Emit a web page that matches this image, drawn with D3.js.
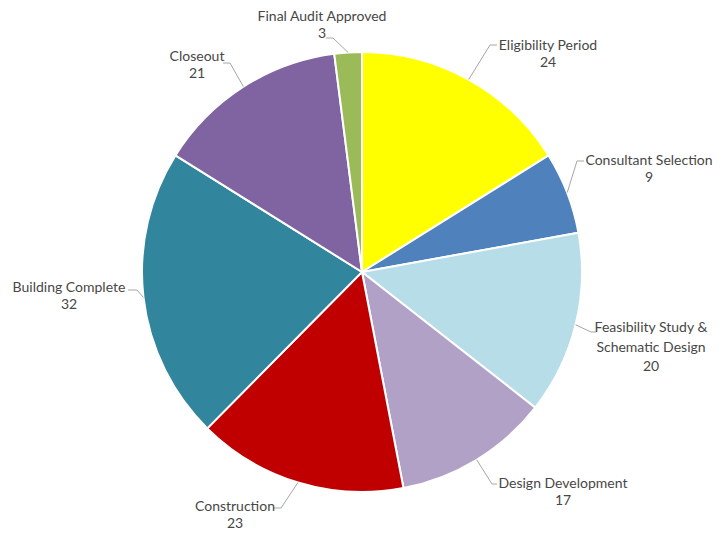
<!DOCTYPE html>
<html>
<head>
<meta charset="utf-8">
<script src="https://cdn.jsdelivr.net/npm/d3@7"></script>
<style>
body { margin:0; background:#fff; }
.lbl { font-family: Lato, "Open Sans", sans-serif; font-size:14px; fill:#474747; }
.leader { fill:none; stroke:#a6a6a6; stroke-width:1; }
</style>
</head>
<body>
<svg width="728" height="534"></svg>
<script>
// chart data
var categories = ['Eligibility Period', 'Consultant Selection', 'Feasibility Study & Schematic Design',
	'Design Development', 'Construction', 'Building Complete', 'Closeout', 'Final Audit Approved'];
var values = [24, 9, 20, 17, 23, 32, 21, 3];
var colors = ['#ffff00', '#4f81bd', '#b7dee8', '#b2a1c7', '#c00000', '#31859c', '#8064a2', '#9bbb59'];

// label lines as they are broken in the picture
var labelLines = [['Eligibility Period'], ['Consultant Selection'], ['Feasibility Study &', 'Schematic Design'],
	['Design Development'], ['Construction'], ['Building Complete'], ['Closeout'], ['Final Audit Approved']];

// label placement: text centre x, first baseline y, elbow point, end of horizontal tick
var labelPos = [
	{tx:548, ty:50, ex:490, ey:45, hx:497},
	{tx:649, ty:165, ex:577, ey:161, hx:584},
	{tx:651, ty:332, ex:591, ey:332, hx:596},
	{tx:563, ty:488, ex:492, ey:484, hx:497},
	{tx:235, ty:511, ex:281, ey:508, hx:274},
	{tx:69, ty:292, ex:137, ey:290, hx:128},
	{tx:197, ty:61, ex:230, ey:63, hx:223},
	{tx:322, ty:21, ex:333, ey:38, hx:326}
];

var cx = 362, cy = 272, r = 220;

var svg = d3.select('svg');
var g = svg.append('g').attr('transform', 'translate(' + cx + ',' + cy + ')');

var pie = d3.pie().sort(null).value(function(d){ return d; });
var arcs = pie(values);
var arc = d3.arc().innerRadius(0).outerRadius(r);

g.selectAll('path.slice')
	.data(arcs)
	.enter()
	.append('path')
	.attr('class', 'slice')
	.attr('d', arc)
	.attr('fill', function(d, i){ return colors[i]; })
	.attr('stroke', '#fff')
	.attr('stroke-width', 2);

arcs.forEach(function(a, i){
	var mid = (a.startAngle + a.endAngle) / 2;
	var sx = cx + r * Math.sin(mid), sy = cy - r * Math.cos(mid);
	var p = labelPos[i];
	svg.append('polyline')
		.attr('class', 'leader')
		.attr('points', [sx, sy, p.ex, p.ey, p.hx, p.ey].join(' '));

	var t = svg.append('text')
		.attr('class', 'lbl')
		.attr('text-anchor', 'middle');
	var lines = labelLines[i].concat([String(values[i])]);
	var gap = labelLines[i].length > 1 ? 19.5 : 17;
	lines.forEach(function(s, k){
		t.append('tspan').attr('x', p.tx).attr('y', p.ty + k * gap).text(s);
	});
});
</script>
</body>
</html>
